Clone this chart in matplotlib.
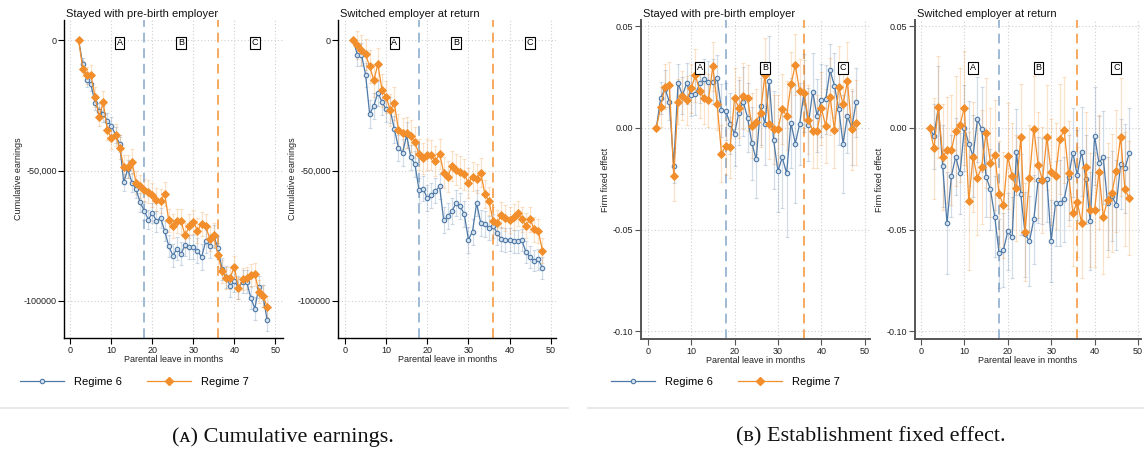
import matplotlib
matplotlib.use("Agg")
import matplotlib.pyplot as plt
from matplotlib.lines import Line2D

plt.rcParams['font.family'] = ['Liberation Sans', 'DejaVu Sans']

months = list(range(2, 49))

# Cumulative earnings (panel A)
earn_stay_r6 = [0, -9300, -15400, -17000, -24000, -27100, -28400, -30900, -32800, -36400,
                -39700, -54500, -49500, -54600, -57100, -62200, -65400, -68800, -66200, -69500,
                -68200, -73200, -79000, -82600, -80000, -81900, -78400, -79300, -79300, -80700,
                -83200, -77200, -78800, -75200, -79600, -87900, -90800, -94300, -92400, -94900,
                -92600, -92600, -98700, -102900, -94500, -98100, -107300]
earn_stay_r7 = [0, -10900, -13500, -13200, -21800, -29400, -23900, -34500, -37700, -36400,
                -41200, -48500, -48500, -46600, -54600, -56100, -57600, -58100, -59400, -61200,
                -61800, -59000, -69100, -71400, -69500, -69500, -74900, -71400, -69800, -73000,
                -70500, -71400, -76100, -74900, -82400, -88700, -91100, -91100, -86800, -95200,
                -91600, -91200, -90200, -89800, -96400, -98000, -102200]
earn_switch_r6 = [0, -5600, -5600, -13200, -28400, -25200, -20200, -23700, -26500, -26800,
                  -34200, -41200, -43100, -36500, -45000, -47500, -57600, -57000, -60600, -59500,
                  -57800, -56100, -69100, -67600, -65600, -62500, -63700, -66700, -76500, -73400,
                  -62500, -70100, -70500, -72100, -71400, -73900, -76200, -76700, -76500, -77200,
                  -77200, -76700, -81300, -83200, -84500, -84100, -87400]
earn_switch_r7 = [0, -1800, -3900, -5500, -10100, -15400, -9300, -19200, -21800, -26800,
                  -24300, -34500, -35800, -35500, -36800, -39200, -43800, -45300, -43900, -44100,
                  -46300, -43600, -50800, -52300, -48200, -49700, -50600, -51400, -54800, -52300,
                  -53200, -50800, -58900, -61800, -69200, -70100, -67200, -68100, -68800, -67900,
                  -66400, -68600, -71100, -68600, -72600, -73300, -80700]

earn_stay_r6_ci = [0, 2400, 2600, 2700, 2900, 3000, 3000, 3100, 3200, 3200, 3300, 3300, 3400,
                   3500, 3500, 3600, 3700, 3700, 3800, 3900, 3900, 4000, 4300, 4500, 4400, 4500,
                   4400, 4600, 4700, 4700, 5000, 4500, 4600, 4500, 4400, 4200, 4300, 4200, 4300,
                   4300, 4400, 4400, 4300, 4300, 4200, 4300, 4200]
earn_stay_r7_ci = [0, 3000, 3300, 3500, 3800, 3600, 4200, 3900, 4000, 4100, 4200, 4300, 4400,
                   4700, 4300, 4300, 4400, 4400, 4500, 4500, 4600, 4600, 4500, 4600, 4600, 4700,
                   4700, 4600, 4700, 4800, 4700, 4700, 4600, 4600, 4500, 4300, 4200, 4200, 4100,
                   4200, 4300, 4400, 4500, 4500, 4300, 4200, 4100]
earn_switch_r6_ci = [0, 4200, 4400, 4600, 5300, 5000, 4900, 5000, 5000, 5100, 5100, 5000, 5000,
                     5000, 4900, 4900, 4800, 4800, 4900, 4900, 4800, 4800, 5000, 5000, 5000, 5000,
                     5000, 5000, 5000, 5000, 5000, 4900, 4800, 4700, 4600, 4600, 4500, 4500, 4500,
                     4400, 4400, 4300, 4300, 4300, 4200, 4200, 4200]
earn_switch_r7_ci = [0, 5300, 5800, 6000, 6200, 6400, 6300, 6300, 6200, 6200, 6200, 6100, 6100,
                     6000, 6000, 6000, 5900, 5900, 5900, 5800, 5800, 5800, 5800, 5800, 5800, 5900,
                     6000, 6000, 5800, 5700, 5600, 5500, 5400, 5300, 5200, 5100, 5000, 5000, 5000,
                     4900, 4900, 4800, 4800, 4800, 4700, 4600, 4700]

# Establishment fixed effect (panel B)
fe_stay_r6 = [0, 0.0147, 0.0193, 0.0127, -0.0185, 0.0222, 0.016, 0.0219, 0.016, 0.0165,
              0.022, 0.0239, 0.0227, 0.0227, 0.0247, 0.0087, 0.0082, 0.002, -0.0029, 0.0075,
              0.0129, 0.0051, -0.0075, -0.0155, 0.0106, 0.002, 0.023, -0.006, -0.0212, -0.0145,
              -0.0224, 0.0025, -0.0077, 0.002, 0.0172, 0.0016, 0.0178, 0.006, 0.0136, 0.014,
              0.0283, 0.0208, 0.0095, -0.0078, 0.0059, 0.0, 0.0126]
fe_stay_r7 = [0, 0.0103, 0.0203, 0.0212, -0.0237, 0.0129, 0.0159, 0.0136, 0.0194, 0.0258,
              0.018, 0.0147, 0.0136, 0.0302, 0.0119, -0.0126, -0.009, -0.0096, 0.0145, 0.01,
              0.0157, 0.0147, 0.001, 0.0031, 0.0075, 0.026, 0.0018, -0.0007, -0.0007, 0.0093,
              0.0059, 0.0214, 0.031, 0.018, 0.0173, 0.0041, -0.0015, -0.0016, 0.0096, 0.001,
              0.0154, -0.0008, 0.0201, 0.0116, 0.023, -0.0007, 0.0026]
fe_switch_r6 = [0, -0.0041, 0.0103, -0.0188, -0.0469, -0.0237, -0.0142, -0.0224, 0.0, -0.0077,
                -0.0139, 0.0042, -0.0007, -0.024, -0.0302, -0.0436, -0.0616, -0.06, -0.0508, -0.0538,
                -0.0118, -0.0327, -0.0523, -0.0556, -0.0449, -0.0257, -0.026, -0.0252, -0.0556, -0.0371,
                -0.0368, -0.0351, -0.0243, -0.0121, -0.0232, -0.0116, -0.0253, -0.0459, -0.0039, -0.017,
                -0.0145, -0.0371, -0.0335, -0.0379, -0.0178, -0.0199, -0.0123]
fe_switch_r7 = [0, -0.0101, 0.0103, -0.0142, -0.011, -0.011, -0.0015, 0.0016, 0.01, -0.036,
                -0.0142, -0.0245, -0.0191, -0.0023, -0.017, -0.0134, -0.0325, -0.038, -0.0139, -0.0237,
                -0.0297, -0.0044, -0.051, -0.0245, -0.0003, -0.0183, -0.0257, -0.0047, -0.0216, -0.0235,
                -0.0054, -0.0011, -0.0224, -0.0418, -0.0363, -0.0466, -0.0193, -0.0404, -0.0404, -0.0216,
                -0.0436, -0.0355, -0.032, -0.021, -0.0044, -0.0302, -0.0346]

fe_stay_r6_ci = [0, 0.008, 0.009, 0.009, 0.0085, 0.009, 0.009, 0.01, 0.01, 0.01, 0.01, 0.01,
                 0.01, 0.011, 0.011, 0.013, 0.014, 0.015, 0.016, 0.016, 0.017, 0.017, 0.018,
                 0.019, 0.019, 0.02, 0.022, 0.024, 0.02, 0.025, 0.031, 0.022, 0.029, 0.02, 0.019,
                 0.018, 0.019, 0.018, 0.018, 0.017, 0.013, 0.016, 0.018, 0.024, 0.018, 0.018, 0.017]
fe_stay_r7_ci = [0, 0.01, 0.011, 0.011, 0.012, 0.011, 0.012, 0.012, 0.012, 0.013, 0.013, 0.013,
                 0.013, 0.012, 0.013, 0.014, 0.014, 0.015, 0.015, 0.015, 0.016, 0.016, 0.016,
                 0.016, 0.017, 0.018, 0.017, 0.017, 0.017, 0.017, 0.017, 0.016, 0.015, 0.016,
                 0.016, 0.017, 0.018, 0.018, 0.018, 0.018, 0.019, 0.019, 0.02, 0.02, 0.019, 0.02, 0.021]
fe_switch_r6_ci = [0, 0.016, 0.02, 0.02, 0.025, 0.02, 0.019, 0.02, 0.021, 0.021, 0.02, 0.021,
                   0.021, 0.02, 0.02, 0.02, 0.017, 0.018, 0.019, 0.02, 0.021, 0.02, 0.021, 0.022,
                   0.022, 0.021, 0.021, 0.021, 0.02, 0.021, 0.021, 0.021, 0.021, 0.022, 0.022,
                   0.022, 0.022, 0.024, 0.024, 0.023, 0.023, 0.023, 0.022, 0.022, 0.022, 0.022, 0.022]
fe_switch_r7_ci = [0, 0.025, 0.025, 0.026, 0.026, 0.027, 0.027, 0.028, 0.028, 0.034, 0.027, 0.028,
                   0.028, 0.027, 0.027, 0.027, 0.026, 0.026, 0.026, 0.026, 0.026, 0.026, 0.024,
                   0.026, 0.026, 0.026, 0.026, 0.026, 0.026, 0.026, 0.027, 0.026, 0.026, 0.026,
                   0.027, 0.027, 0.027, 0.028, 0.028, 0.028, 0.028, 0.028, 0.029, 0.03, 0.029, 0.028, 0.028]

regime_labels = ["Regime 6", "Regime 7"]
panel_titles = ["Stayed with pre-birth employer", "Switched employer at return",
                "Stayed with pre-birth employer", "Switched employer at return"]
phase_labels = ["A", "B", "C"]
phase_x = [12, 27, 45]
leave_cutoffs = [18, 36]
xticks = [0, 10, 20, 30, 40, 50]
earn_ticks = [0, -50000, -100000]
earn_ticklabels = ["0", "-50,000", "-100000"]
fe_ticks = [0.05, 0.0, -0.05, -0.10]
fe_ticklabels = ["0.05", "0.00", "-0.05", "-0.10"]
captions = ["(\u1d00) Cumulative earnings.", "(\u0299) Establishment fixed effect."]

BLUE = "#4e79a7"
ORANGE = "#f28e2b"
BLUE_DASH = "#9fbad6"
ORANGE_DASH = "#f7a95e"

W, H = 1144, 453
fig = plt.figure(figsize=(W / 100, H / 100), dpi=100)


def px_axes(left, right, top, bottom):
    return fig.add_axes([left / W, 1 - bottom / H, (right - left) / W, (bottom - top) / H])


panels = [
    dict(box=(64.3, 282.7, 20, 338), xlim=(-1.5, 51.8), ylim=(-114200, 7700),
         r6=earn_stay_r6, r7=earn_stay_r7, e6=earn_stay_r6_ci, e7=earn_stay_r7_ci,
         yt=earn_ticks, ytl=earn_ticklabels, ylab="Cumulative earnings", spine="black",
         boxy=-1100, lpad=0.5),
    dict(box=(338.3, 556, 20, 338), xlim=(-1.63, 51.3), ylim=(-114200, 7700),
         r6=earn_switch_r6, r7=earn_switch_r7, e6=earn_switch_r6_ci, e7=earn_switch_r7_ci,
         yt=earn_ticks, ytl=earn_ticklabels, ylab="Cumulative earnings", spine="black",
         boxy=-1100, lpad=0.5),
    dict(box=(640.7, 870, 20, 339), xlim=(-1.6, 51.2), ylim=(-0.1037, 0.053),
         r6=fe_stay_r6, r7=fe_stay_r7, e6=fe_stay_r6_ci, e7=fe_stay_r7_ci,
         yt=fe_ticks, ytl=fe_ticklabels, ylab="Firm fixed effect", spine="#555555",
         boxy=0.0296, lpad=2),
    dict(box=(915, 1141, 20, 339), xlim=(-1.38, 50.7), ylim=(-0.1037, 0.053),
         r6=fe_switch_r6, r7=fe_switch_r7, e6=fe_switch_r6_ci, e7=fe_switch_r7_ci,
         yt=fe_ticks, ytl=fe_ticklabels, ylab="Firm fixed effect", spine="#555555",
         boxy=0.0296, lpad=2),
]

for i, p in enumerate(panels):
    ax = px_axes(*p["box"])
    ax.set_xlim(*p["xlim"])
    ax.set_ylim(*p["ylim"])
    for s in ("top", "right"):
        ax.spines[s].set_visible(False)
    for s in ("left", "bottom"):
        ax.spines[s].set_color(p["spine"])
        ax.spines[s].set_linewidth(1.0 if p["spine"] == "black" else 1.4)
    ax.set_xticks(xticks)
    ax.set_yticks(p["yt"])
    ax.set_yticklabels(p["ytl"])
    ax.tick_params(axis="both", labelsize=6.5, length=4, width=0.8, pad=1.5,
                   color=p["spine"], labelcolor="#222222")
    ax.grid(True, linestyle=(0, (1, 2)), color="#cfcfcf", linewidth=0.8)
    ax.set_axisbelow(True)
    ax.set_xlabel("Parental leave in months", fontsize=6.5, labelpad=0.5, color="#222222")
    ax.set_ylabel(p["ylab"], fontsize=6.5, labelpad=p["lpad"], color="#222222")
    ax.text(0.008, 1 + 6 / 318, panel_titles[i], transform=ax.transAxes,
            ha="left", va="center", fontsize=8, color="#111111")

    ax.axvline(leave_cutoffs[0], color=BLUE_DASH, linestyle=(0, (5, 3)), linewidth=1.4, zorder=1)
    ax.axvline(leave_cutoffs[1], color=ORANGE_DASH, linestyle=(0, (5, 3)), linewidth=1.4, zorder=1)

    ax.errorbar(months, p["r6"], yerr=p["e6"], fmt="none", ecolor=BLUE, alpha=0.25,
                elinewidth=0.9, capsize=1.6, capthick=0.8, zorder=2)
    ax.errorbar(months, p["r7"], yerr=p["e7"], fmt="none", ecolor=ORANGE, alpha=0.25,
                elinewidth=0.9, capsize=1.6, capthick=0.8, zorder=2)
    ax.plot(months, p["r6"], color=BLUE, linewidth=0.9, marker="o", markersize=3.2,
            markerfacecolor="#d6e1ee", markeredgecolor=BLUE, markeredgewidth=0.8, zorder=3)
    ax.plot(months, p["r7"], color=ORANGE, linewidth=0.9, marker="D", markersize=3.6,
            markerfacecolor=ORANGE, markeredgecolor=ORANGE, markeredgewidth=0.6, zorder=4)

    for lab, xv in zip(phase_labels, phase_x):
        ax.text(xv, p["boxy"], lab, ha="center", va="center", fontsize=6.5, zorder=5,
                bbox=dict(boxstyle="square,pad=0.18", facecolor="white",
                          edgecolor="black", linewidth=0.8))

# Legends below each pair of panels
handles = [
    Line2D([], [], color=BLUE, linewidth=0.9, marker="o", markersize=3.2,
           markerfacecolor="#d6e1ee", markeredgecolor=BLUE, markeredgewidth=0.8),
    Line2D([], [], color=ORANGE, linewidth=0.9, marker="D", markersize=3.6,
           markerfacecolor=ORANGE, markeredgecolor=ORANGE),
]
for lx in (20, 611):
    fig.legend(handles, regime_labels, loc="center left",
               bbox_to_anchor=(lx / W, 1 - 382 / H), ncol=2, frameon=False,
               fontsize=8, handlelength=4.0, handletextpad=0.9, columnspacing=2.2,
               borderpad=0, borderaxespad=0)

# Separator rules and sub-captions
fig.add_artist(Line2D([0, 568 / W], [1 - 408 / H] * 2, color="#e4e4e4", linewidth=1.2))
fig.add_artist(Line2D([588 / W, 1], [1 - 408 / H] * 2, color="#e4e4e4", linewidth=1.2))
fig.text(283 / W, 1 - 437 / H, captions[0], ha="center", va="center", fontsize=16,
         family=["Liberation Serif", "DejaVu Serif"], color="#111111")
fig.text(871 / W, 1 - 437 / H, captions[1], ha="center", va="center", fontsize=16,
         family=["Liberation Serif", "DejaVu Serif"], color="#111111")

fig.savefig("out.png", dpi=100)
